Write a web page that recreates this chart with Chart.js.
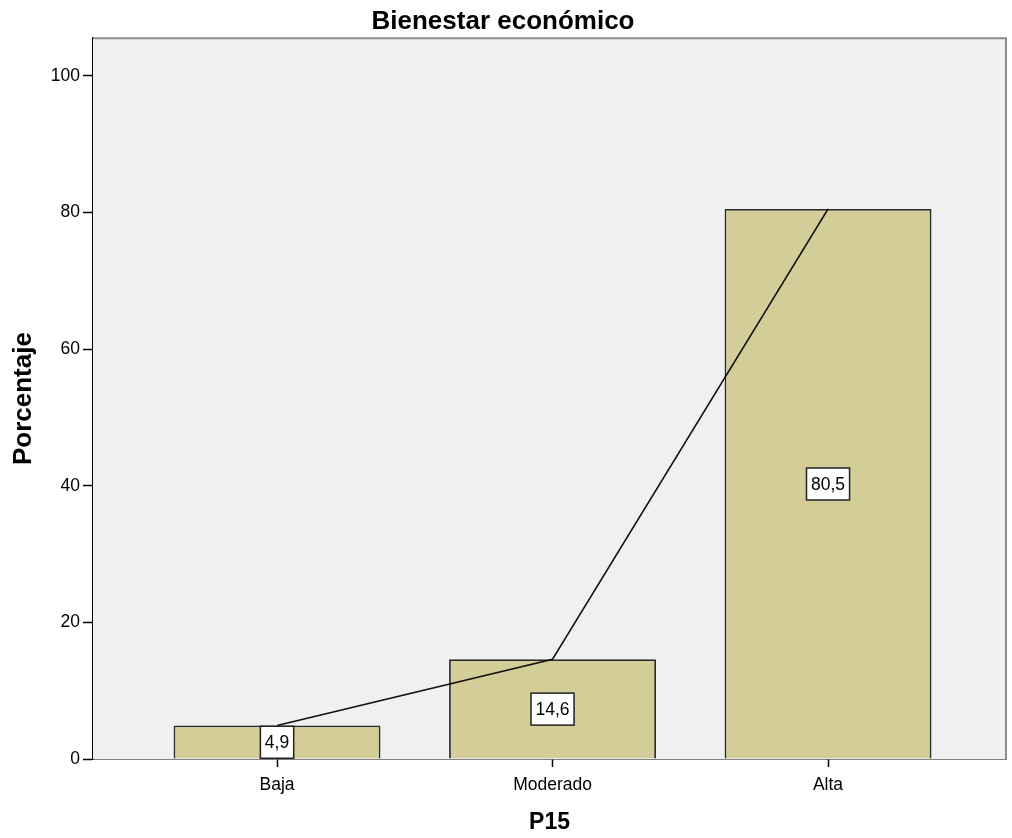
<!DOCTYPE html>
<html>
<head>
<meta charset="utf-8">
<script src="https://cdn.jsdelivr.net/npm/chart.js@4"></script>
<style>
  html, body { margin: 0; padding: 0; background: #fff; }
  #wrap { width: 1012px; height: 838px; }
</style>
</head>
<body>
<div id="wrap"><canvas id="chart" width="1012" height="838"></canvas></div>
<script>
const categories = ["Baja", "Moderado", "Alta"];
const percentages = [4.9, 14.6, 80.5];
const yTicks = [0, 20, 40, 60, 80, 100];

const FONT = "'Liberation Sans', Arial, sans-serif";

const points = percentages.map((v, i) => ({ x: i, y: v }));

// plot background + top/right frame
const frame = {
    id: "frame",
    beforeDatasetsDraw(chart) {
        const a = chart.chartArea, ctx = chart.ctx;
        ctx.save();
        ctx.fillStyle = "#f0f0f0";
        ctx.fillRect(a.left, a.top, a.right - a.left, a.bottom - a.top);
        ctx.restore();
    },
    afterDraw(chart) {
        const a = chart.chartArea, ctx = chart.ctx;
        ctx.save();
        ctx.strokeStyle = "#8c8c8c";
        ctx.lineWidth = 2;
        ctx.beginPath();
        ctx.moveTo(a.left, a.top);
        ctx.lineTo(a.right, a.top);
        ctx.lineTo(a.right, a.bottom);
        ctx.stroke();
        ctx.restore();
    }
};

// white value boxes in the middle of each bar
const valueBoxes = {
    id: "valueBoxes",
    afterDatasetsDraw(chart) {
        const ctx = chart.ctx;
        const yScale = chart.scales.y;
        const meta = chart.getDatasetMeta(1);
        ctx.save();
        ctx.font = "17.5px " + FONT;
        ctx.textAlign = "center";
        ctx.textBaseline = "middle";
        meta.data.forEach((bar, i) => {
            const v = percentages[i];
            const txt = v.toFixed(1).replace(".", ",");
            const w = ctx.measureText(txt).width + 9;
            const h = 32;
            const cx = bar.x;
            const cy = yScale.getPixelForValue(v / 2);
            ctx.fillStyle = "#fff";
            ctx.fillRect(cx - w / 2, cy - h / 2, w, h);
            ctx.strokeStyle = "#222";
            ctx.lineWidth = 1.5;
            ctx.strokeRect(cx - w / 2, cy - h / 2, w, h);
            ctx.fillStyle = "#000";
            ctx.fillText(txt, cx, cy + 1);
        });
        ctx.restore();
    }
};

new Chart(document.getElementById("chart"), {
    type: "bar",
    data: {
        datasets: [
            {
                type: "line",
                data: points,
                borderColor: "#111",
                borderWidth: 1.5,
                pointRadius: 0,
                tension: 0,
                order: 0
            },
            {
                type: "bar",
                data: points,
                backgroundColor: "#d3ce97",
                borderColor: "#2a2a2a",
                borderWidth: 1.8,
                barPercentage: 0.751,
                categoryPercentage: 1,
                order: 1
            }
        ]
    },
    options: {
        responsive: false,
        animation: false,
        layout: { padding: { left: 0, right: 6, top: 0, bottom: 0 } },
        plugins: {
            legend: { display: false },
            tooltip: { enabled: false },
            title: {
                display: true,
                text: "Bienestar económico",
                color: "#000",
                font: { family: FONT, size: 26, weight: "bold" },
                padding: { top: 6, bottom: 1 }
            }
        },
        scales: {
            x: {
                type: "linear",
                offset: false,
                min: -0.668,
                max: 2.646,
                afterBuildTicks: s => { s.ticks = categories.map((c, i) => ({ value: i })); },
                afterFit: s => { s.height = 79; },
                ticks: {
                    callback: v => categories[v],
                    color: "#000",
                    font: { family: FONT, size: 17.5 },
                    padding: 8,
                    autoSkip: false,
                    maxRotation: 0
                },
                grid: { offset: false, drawOnChartArea: false, drawTicks: true, tickLength: 8, tickColor: "#000", tickWidth: 1.5 },
                border: { color: "#000", width: 1.5 },
                title: {
                    display: true,
                    text: "P15",
                    color: "#000",
                    font: { family: FONT, size: 23, weight: "bold" },
                    padding: { top: 0, bottom: 2 }
                }
            },
            y: {
                min: 0,
                max: 105.5,
                afterBuildTicks: s => { s.ticks = yTicks.map(v => ({ value: v })); },
                afterFit: s => { s.width = 93; },
                ticks: {
                    color: "#000",
                    font: { family: FONT, size: 17.5 },
                    padding: 3
                },
                grid: { drawOnChartArea: false, drawTicks: true, tickLength: 10, tickColor: "#000", tickWidth: 1.5 },
                border: { color: "#000", width: 1.5 },
                title: {
                    display: true,
                    text: "Porcentaje",
                    color: "#000",
                    font: { family: FONT, size: 26, weight: "bold" },
                    padding: { top: 8, bottom: 0 }
                }
            }
        }
    },
    plugins: [frame, valueBoxes]
});
</script>
</body>
</html>
